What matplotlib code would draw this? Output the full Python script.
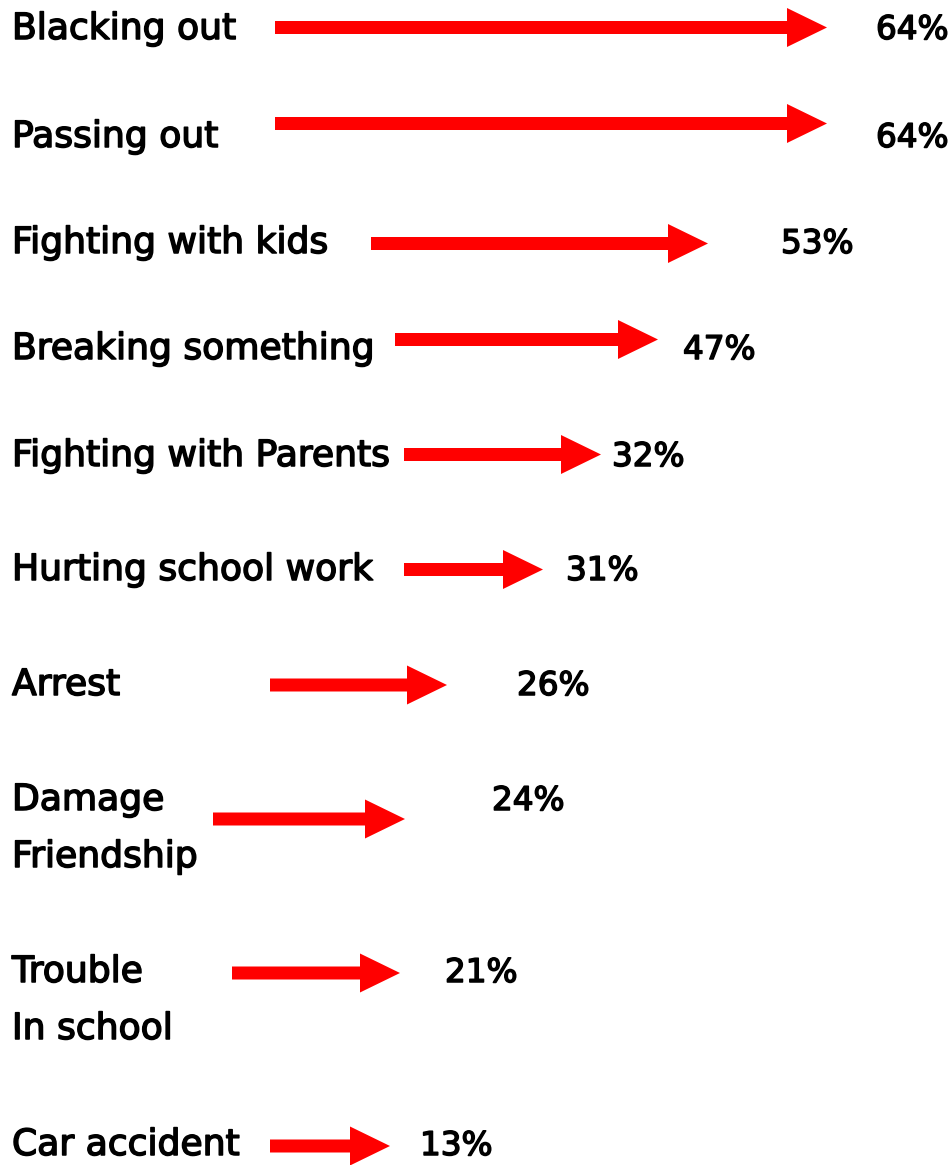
import matplotlib
matplotlib.use("Agg")
import matplotlib.pyplot as plt
import matplotlib.patheffects as pe
from matplotlib.patches import FancyArrow

# data
labels = ["Blacking out", "Passing out", "Fighting with kids", "Breaking something",
          "Fighting with Parents", "Hurting school work", "Arrest",
          "Damage\nFriendship", "Trouble\nIn school", "Car accident"]
values = [64, 64, 53, 47, 32, 31, 26, 24, 21, 13]

# layout (pixel coordinates of the original graphic)
row_base = [39, 147, 253, 359, 466, 580, 695, 810, 982, 1155]
arrow_y = [27.5, 123.5, 243.5, 339.5, 454.5, 569.5, 685, 819, 973, 1146]
arrow_x0 = [275, 275, 371, 395, 404, 404, 270, 213, 232, 270]
arrow_x1 = [827, 827, 708, 658, 601, 543, 447, 405, 400, 390]
pct_x = [876, 876, 781, 683, 612, 566, 517, 492, 445, 420]

W, H = 952, 1165
fig = plt.figure(figsize=(W / 100, H / 100), dpi=100)
ax = fig.add_axes([0, 0, 1, 1])
ax.set_xlim(0, W)
ax.set_ylim(H, 0)
ax.axis("off")

fs = 26
pct_fs = 23.5
line_gap = 57
bold_fx = [pe.withStroke(linewidth=1.1, foreground="black")]

for i, lab in enumerate(labels):
    for j, line in enumerate(lab.split("\n")):
        ax.text(12, row_base[i] + j * line_gap, line, fontsize=fs,
                family="DejaVu Sans", va="baseline", ha="left", color="black",
                path_effects=bold_fx)
    ax.text(pct_x[i], row_base[i], f"{values[i]}%", fontsize=pct_fs,
            family="DejaVu Sans", va="baseline", ha="left", color="black",
            path_effects=bold_fx)
    ax.add_patch(FancyArrow(arrow_x0[i], arrow_y[i], arrow_x1[i] - arrow_x0[i], 0,
                            width=13, head_width=39, head_length=40,
                            length_includes_head=True, color="#ff0000", lw=0))

fig.savefig("out.png", dpi=100)
